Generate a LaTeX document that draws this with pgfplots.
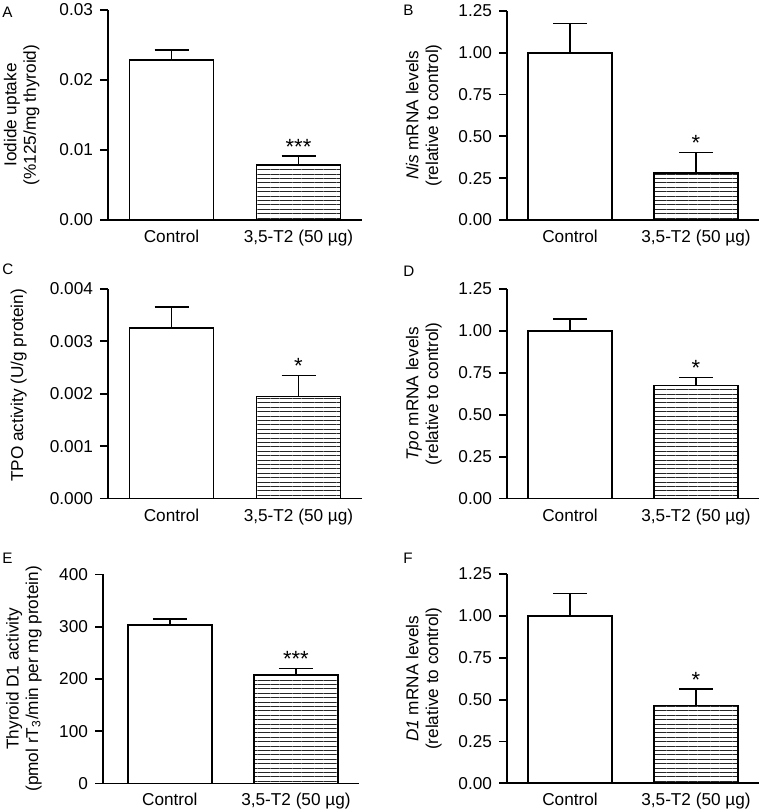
\documentclass[border=0pt]{standalone}
\usepackage{pgfplots}
\pgfplotsset{compat=1.18}
\usepackage{fontspec}
\setmainfont{Liberation Sans}
\usetikzlibrary{patterns.meta}
\newcommand{\tf}{\fontsize{8.6}{9.8}\selectfont}
\newcommand{\starfont}{\fontsize{11}{12}\selectfont}
\newcommand{\lf}{\fontsize{7.6}{8}\selectfont}
\tikzset{sigstar/.style={font=\starfont, anchor=south, inner sep=0pt, yshift=0.6pt}}
\pgfplotsset{
  panel/.style={
    scale only axis, anchor=south west,
    axis lines*=left,
    axis line style={line width=0.9pt},
    xmin=-0.5, xmax=1.5, ymin=0,
    xtick={0,1}, xticklabels={Control,{3,5-T2 (50 µg)}},
    xtick style={draw=none},
    xticklabel style={yshift=2.5pt},
    ytick style={line width=0.9pt, black},
    tick align=outside, major tick length=4pt,
    tick label style={font=\tf},
    label style={font=\tf},
    /pgf/number format/assume math mode=true,
    scaled y ticks=false,
    yticklabel style={/pgf/number format/.cd, fixed, fixed zerofill, precision=2},
    ylabel style={align=center, inner sep=0pt, anchor=south},
    ybar, bar width=42pt, bar shift=0pt,
    clip=false,
  },
  ctrl/.style={draw=black, fill=white, line width=0.9pt,
    error bars/.cd, y dir=plus, y explicit,
    error bar style={line width=0.9pt},
    error mark options={rotate=90, mark size=8.5pt, line width=0.9pt}},
  trt/.style={draw=black, line width=0.9pt,
    pattern={Lines[angle=0, distance=2.2pt, line width=0.4pt]}, pattern color=black!85,
    error bars/.cd, y dir=plus, y explicit,
    error bar style={line width=0.9pt},
    error mark options={rotate=90, mark size=8.5pt, line width=0.9pt}},
}
\begin{document}
\begin{tikzpicture}
\useasboundingbox (0pt,0pt) rectangle (379.5pt,406pt);
% A
\begin{axis}[panel, at={(54pt,296pt)}, width=127pt, height=105pt,
  ymax=0.03, ytick={0,0.01,0.02,0.03},
  ylabel={Iodide uptake\\(\%125/mg thyroid)},
  ylabel style={at={(axis description cs:-0.268,0.5)}}]
\addplot[ctrl] coordinates {(0,0.0228) +- (0,0.0015)};
\addplot[trt] coordinates {(1,0.0078) +- (0,0.0013)};
\node[sigstar] at (axis cs:1,0.0091) {***};
\end{axis}
% B
\begin{axis}[panel, at={(253.5pt,296pt)}, width=126pt, height=104.5pt,
  ymax=1.25, ytick={0,0.25,0.5,0.75,1,1.25},
  ylabel={\textit{Nis} mRNA levels\\(relative to control)},
  ylabel style={at={(axis description cs:-0.258,0.5)}}]
\addplot[ctrl] coordinates {(0,1.0) +- (0,0.175)};
\addplot[trt] coordinates {(1,0.279) +- (0,0.125)};
\node[sigstar] at (axis cs:1,0.404) {*};
\end{axis}
% C
\begin{axis}[panel, at={(54pt,156.7pt)}, width=127pt, height=104.8pt,
  ymax=0.004, ytick={0,0.001,0.002,0.003,0.004},
  yticklabel style={/pgf/number format/precision=3},
  ylabel={TPO activity (U/g protein)},
  ylabel style={at={(axis description cs:-0.319,0.54)}}]
\addplot[ctrl] coordinates {(0,0.00325) +- (0,0.00041)};
\addplot[trt] coordinates {(1,0.00195) +- (0,0.0004)};
\node[sigstar] at (axis cs:1,0.00235) {*};
\end{axis}
% D
\begin{axis}[panel, at={(253.5pt,156.7pt)}, width=126pt, height=104.8pt,
  ymax=1.25, ytick={0,0.25,0.5,0.75,1,1.25},
  ylabel={\textit{Tpo} mRNA levels\\(relative to control)},
  ylabel style={at={(axis description cs:-0.258,0.5)}}]
\addplot[ctrl] coordinates {(0,1.0) +- (0,0.069)};
\addplot[trt] coordinates {(1,0.674) +- (0,0.048)};
\node[sigstar] at (axis cs:1,0.722) {*};
\end{axis}
% E
\begin{axis}[panel, at={(51.5pt,14.3pt)}, width=128pt, height=104.5pt,
  xmin=-0.53, xmax=1.5,
  ymax=400, ytick={0,100,200,300,400},
  yticklabel style={/pgf/number format/precision=0},
  ylabel={Thyroid D1 activity\\(pmol rT\textsubscript{3}/min per mg protein)},
  ylabel style={at={(axis description cs:-0.238,0.5)}}]
\addplot[ctrl] coordinates {(0,303) +- (0,11.5)};
\addplot[trt] coordinates {(1,207) +- (0,13)};
\node[sigstar] at (axis cs:1,220) {***};
\end{axis}
% F
\begin{axis}[panel, at={(253.5pt,14.3pt)}, width=126pt, height=104.7pt,
  ymax=1.25, ytick={0,0.25,0.5,0.75,1,1.25},
  ylabel={\textit{D1} mRNA levels\\(relative to control)},
  ylabel style={at={(axis description cs:-0.258,0.5)}}]
\addplot[ctrl] coordinates {(0,1.0) +- (0,0.133)};
\addplot[trt] coordinates {(1,0.465) +- (0,0.097)};
\node[sigstar] at (axis cs:1,0.562) {*};
\end{axis}
\node[anchor=north west, inner sep=0pt, font=\lf] at (1pt,402.5pt) {A};
\node[anchor=north west, inner sep=0pt, font=\lf] at (201.5pt,403.5pt) {B};
\node[anchor=north west, inner sep=0pt, font=\lf] at (1pt,274.5pt) {C};
\node[anchor=north west, inner sep=0pt, font=\lf] at (201.5pt,273pt) {D};
\node[anchor=north west, inner sep=0pt, font=\lf] at (1pt,129.5pt) {E};
\node[anchor=north west, inner sep=0pt, font=\lf] at (201.5pt,129.5pt) {F};
\end{tikzpicture}
\end{document}
